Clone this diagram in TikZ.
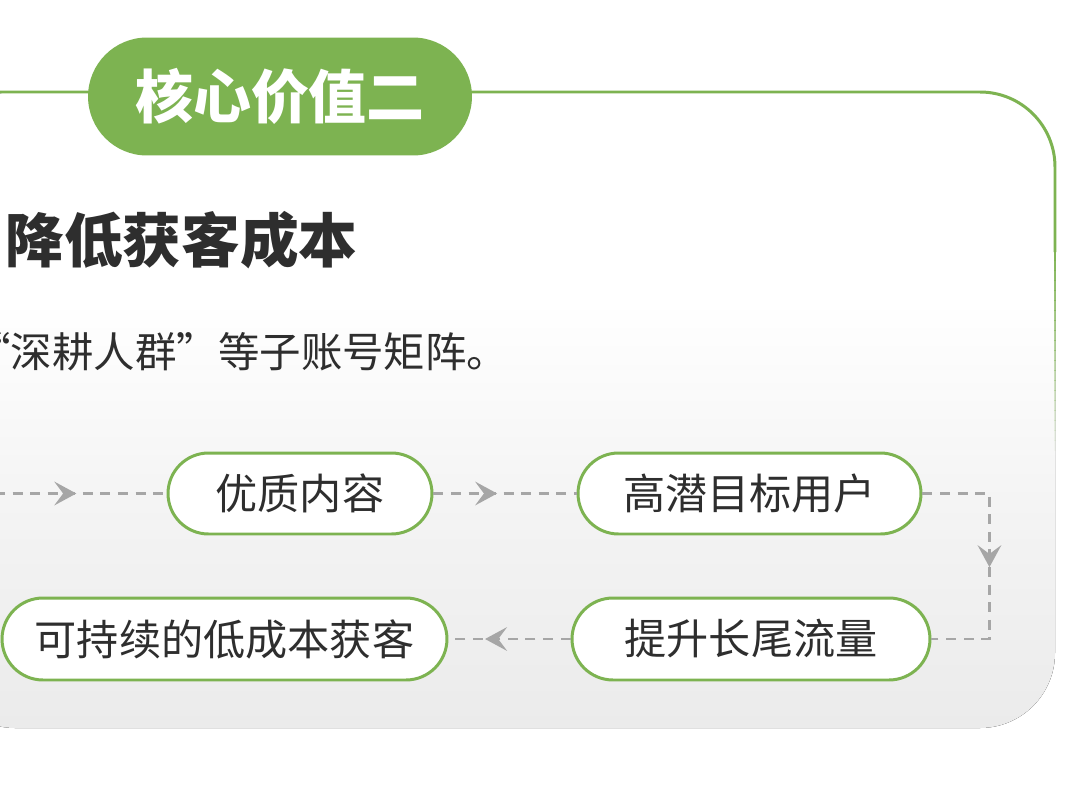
\documentclass[tikz,border=0pt]{standalone}
\usepackage{fontspec}
\setmainfont{Noto Sans CJK SC}
\usetikzlibrary{shapes.misc,arrows.meta,decorations.markings}
\definecolor{leaf}{HTML}{7DB351}
\definecolor{ink}{HTML}{2E2E2E}
\definecolor{dashgray}{HTML}{A6A6A6}
\definecolor{pbot}{HTML}{EBEBEB}
\definecolor{pmid}{HTML}{F4F4F4}
\pgfdeclareverticalshading{panel}{100bp}{color(0bp)=(pbot); color(25bp)=(pbot); color(42.9bp)=(pmid); color(58.6bp)=(white); color(100bp)=(white)}
\tikzset{
  pill/.style={rounded rectangle, draw=leaf, line width=1.7pt, fill=white, text=ink,
    font=\fontsize{24pt}{28pt}\selectfont, inner sep=0pt},
  flow/.style={draw=dashgray, line width=1.4pt, dash pattern=on 5.7pt off 4.3pt},
  midarrow/.style={decoration={markings, mark=at position #1 with {\arrow[dashgray]{Stealth[length=12.5pt,width=13.5pt,inset=5pt]}}}, postaction=decorate},
  frameline/.style={draw=leaf, line width=1.7pt}
}
\begin{document}
\begin{tikzpicture}[x=0.02cm,y=-0.02cm]
\useasboundingbox (0,0) rectangle (1080,785);
\clip (0,0) rectangle (1080,785);
\fill[white] (0,0) rectangle (1080,785);
% panel
\fill[shading=panel, rounded corners=1.5cm] (-60,92) -- (1055,92) -- (1055,728) -- (-60,728) -- cycle;
\draw[frameline, rounded corners=1.5cm] (-60,92) -- (1055,92) -- (1055,252);
\foreach \i in {0,...,19}{
  \pgfmathsetmacro{\op}{1-(\i+1)/21}
  \draw[frameline, draw opacity=\op] (1055,250+10*\i) -- (1055,261+10*\i);
}
% title pill
\node[rounded rectangle, fill=leaf, minimum width=7.68cm, minimum height=2.36cm, inner sep=0pt,
  text=white, font=\bfseries\fontsize{33pt}{38pt}\selectfont] (title) at (280,96.5) {核心价值二};
% heading and text
\node[anchor=west, inner sep=0pt, text=ink, font=\bfseries\fontsize{33.4pt}{38pt}\selectfont] (head) at (5,240) {降低获客成本};
\node[anchor=west, inner sep=0pt, text=ink, font=\fontsize{23.6pt}{28pt}\selectfont] (sub) at (-31,352) {“深耕人群”等子账号矩阵。};
% flow nodes
\node[pill, minimum width=5.28cm, minimum height=1.62cm] (n1) at (300,493.5) {优质内容};
\node[pill, minimum width=6.86cm, minimum height=1.62cm] (n2) at (749.5,493.5) {高潜目标用户};
\node[pill, minimum width=7.16cm, minimum height=1.64cm] (n3) at (751,639) {提升长尾流量};
\node[pill, minimum width=8.9cm, minimum height=1.64cm] (n4) at (224.5,639) {可持续的低成本获客};
\coordinate (in) at (-5,493.5);
% connectors
\draw[flow, midarrow=0.474] (in) -- (n1.west);
\draw[flow, midarrow=0.445] (n1.east) -- (n2.west);
\draw[flow, midarrow=0.52] (n2.east) -- ++(67,0) |- (n3.east);
\draw[flow, midarrow=0.70] (n3.west) -- (n4.east);
\end{tikzpicture}
\end{document}
